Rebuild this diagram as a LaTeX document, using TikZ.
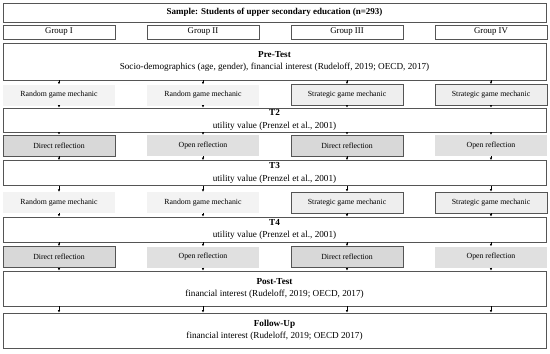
\documentclass[tikz,border=0pt]{standalone}
\usepackage{fontspec}
\setmainfont{Liberation Serif}
\usepackage{tikz}
\usetikzlibrary{
  arrows.meta,
  positioning
}
\definecolor{linegray}{RGB}{85,85,85}
\definecolor{paleg}{RGB}{243,243,243}
\definecolor{stratg}{RGB}{238,238,238}
\definecolor{directg}{RGB}{216,216,216}
\definecolor{openg}{RGB}{224,224,224}

\tikzset{
  widebox/.style={draw=linegray, line width=0.8pt, fill=white, minimum width=543pt,
    inner sep=0pt, align=center, font=\fontsize{9.2}{12.5}\selectfont},
  groupbox/.style={draw=linegray, line width=0.8pt, minimum width=112pt, minimum height=14pt,
    inner sep=0pt, font=\fontsize{8.8}{10}\selectfont},
  condbox/.style={minimum width=112pt, minimum height=21pt, inner sep=0pt,
    font=\fontsize{7.8}{9}\selectfont},
  randombox/.style={condbox, fill=paleg},
  stratbox/.style={condbox, fill=stratg, draw=linegray, line width=0.8pt},
  directbox/.style={condbox, fill=directg, draw=linegray, line width=0.8pt},
  openbox/.style={condbox, fill=openg},
  link/.style={line width=0.8pt, -{Latex[length=2.5pt,width=2.6pt]}}
}

\begin{document}
\begin{tikzpicture}[x=1pt, y=-1pt]
                    \useasboundingbox (0,0) rectangle (550,354);

                    % Sample and groups
                    \node[widebox, minimum height=19pt, font=\fontsize{9}{10}\selectfont\bfseries] (sample) at (274.5,12.5) {Sample: Students of upper secondary education (n=293)};
                    \node[groupbox] (g1) at (59,32) {Group I};
                    \node[groupbox] (g2) at (203,32) {Group II};
                    \node[groupbox] (g3) at (347,32) {Group III};
                    \node[groupbox] (g4) at (491,32) {Group IV};

                    % Pre-Test
                    \node[widebox, minimum height=37pt] (pre) at (274.5,61.5) {\textbf{Pre-Test}\\Socio-demographics (age, gender), financial interest (Rudeloff, 2019; OECD, 2017)};

                    % Game mechanic (first round)
                    \node[randombox] (ma1) at (59,95) {Random game mechanic};
                    \node[randombox] (ma2) at (203,95) {Random game mechanic};
                    \node[stratbox] (ma3) at (347,95) {Strategic game mechanic};
                    \node[stratbox] (ma4) at (491,95) {Strategic game mechanic};

                    % T2
                    \node[widebox, minimum height=24pt] (t2) at (274.5,120) {\textbf{T2}\\utility value (Prenzel et al., 2001)};

                    % Reflection (first round)
                    \node[directbox] (ra1) at (59,145.5) {Direct reflection};
                    \node[openbox] (ra2) at (203,145.5) {Open reflection};
                    \node[directbox] (ra3) at (347,145.5) {Direct reflection};
                    \node[openbox] (ra4) at (491,145.5) {Open reflection};

                    % T3
                    \node[widebox, minimum height=25pt] (t3) at (274.5,173) {\textbf{T3}\\utility value (Prenzel et al., 2001)};

                    % Game mechanic (second round)
                    \node[randombox] (mb1) at (59,202.5) {Random game mechanic};
                    \node[randombox] (mb2) at (203,202.5) {Random game mechanic};
                    \node[stratbox] (mb3) at (347,202.5) {Strategic game mechanic};
                    \node[stratbox] (mb4) at (491,202.5) {Strategic game mechanic};

                    % T4
                    \node[widebox, minimum height=25pt] (t4) at (274.5,229.5) {\textbf{T4}\\utility value (Prenzel et al., 2001)};

                    % Reflection (second round)
                    \node[directbox] (rb1) at (59,257) {Direct reflection};
                    \node[openbox] (rb2) at (203,257) {Open reflection};
                    \node[directbox] (rb3) at (347,257) {Direct reflection};
                    \node[openbox] (rb4) at (491,257) {Open reflection};

                    % Post-Test and Follow-Up
                    \node[widebox, minimum height=35pt] (post) at (274.5,288.5) {\textbf{Post-Test}\\financial interest (Rudeloff, 2019; OECD, 2017)};
                    \node[widebox, minimum height=35pt] (follow) at (274.5,330.5) {\textbf{Follow-Up}\\financial interest (Rudeloff, 2019; OECD 2017)};

                    % Pre-Test to game mechanic
                    \draw[link] (pre.south -| ma1.north) -- (ma1.north);
                    \draw[link] (pre.south -| ma2.north) -- (ma2.north);
                    \draw[link] (pre.south -| ma3.north) -- (ma3.north);
                    \draw[link] (pre.south -| ma4.north) -- (ma4.north);

                    % Game mechanic to T2
                    \draw[link] (ma1.south) -- (t2.north -| ma1.south);
                    \draw[link] (ma2.south) -- (t2.north -| ma2.south);
                    \draw[link] (ma3.south) -- (t2.north -| ma3.south);
                    \draw[link] (ma4.south) -- (t2.north -| ma4.south);

                    % T2 to reflection
                    \draw[link] (t2.south -| ra1.north) -- (ra1.north);
                    \draw[link] (t2.south -| ra2.north) -- (ra2.north);
                    \draw[link] (t2.south -| ra3.north) -- (ra3.north);
                    \draw[link] (t2.south -| ra4.north) -- (ra4.north);

                    % Reflection to T3
                    \draw[link] (ra1.south) -- (t3.north -| ra1.south);
                    \draw[link] (ra2.south) -- (t3.north -| ra2.south);
                    \draw[link] (ra3.south) -- (t3.north -| ra3.south);
                    \draw[link] (ra4.south) -- (t3.north -| ra4.south);

                    % T3 to game mechanic
                    \draw[link] (t3.south -| mb1.north) -- (mb1.north);
                    \draw[link] (t3.south -| mb2.north) -- (mb2.north);
                    \draw[link] (t3.south -| mb3.north) -- (mb3.north);
                    \draw[link] (t3.south -| mb4.north) -- (mb4.north);

                    % Game mechanic to T4
                    \draw[link] (mb1.south) -- (t4.north -| mb1.south);
                    \draw[link] (mb2.south) -- (t4.north -| mb2.south);
                    \draw[link] (mb3.south) -- (t4.north -| mb3.south);
                    \draw[link] (mb4.south) -- (t4.north -| mb4.south);

                    % T4 to reflection
                    \draw[link] (t4.south -| rb1.north) -- (rb1.north);
                    \draw[link] (t4.south -| rb2.north) -- (rb2.north);
                    \draw[link] (t4.south -| rb3.north) -- (rb3.north);
                    \draw[link] (t4.south -| rb4.north) -- (rb4.north);

                    % Reflection to Post-Test
                    \draw[link] (rb1.south) -- (post.north -| rb1.south);
                    \draw[link] (rb2.south) -- (post.north -| rb2.south);
                    \draw[link] (rb3.south) -- (post.north -| rb3.south);
                    \draw[link] (rb4.south) -- (post.north -| rb4.south);

                    % Post-Test to Follow-Up
                    \draw[link] (post.south -| rb1.south) -- (follow.north -| rb1.south);
                    \draw[link] (post.south -| rb2.south) -- (follow.north -| rb2.south);
                    \draw[link] (post.south -| rb3.south) -- (follow.north -| rb3.south);
                    \draw[link] (post.south -| rb4.south) -- (follow.north -| rb4.south);
                \end{tikzpicture}
\end{document}
